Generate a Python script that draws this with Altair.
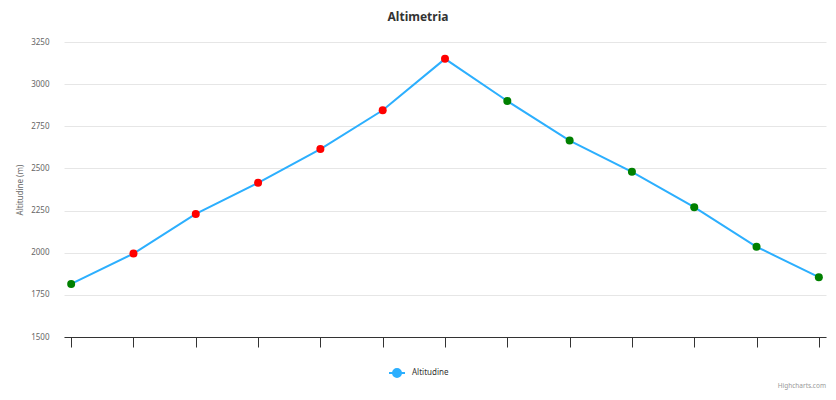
import altair as alt
import pandas as pd

# ---- data ----
punti = list(range(1, 14))
altitudini = [1815, 1995, 2230, 2415, 2615, 2845, 3150, 2900, 2665, 2480, 2270, 2035, 1855]
colori_punti = ["verde"] + ["rosso"] * 6 + ["verde"] * 6
serie = "Altitudine"
y_ticks = [1500, 1750, 2000, 2250, 2500, 2750, 3000, 3250]

FONT = "Noto Sans"
LINE_COLOR = "#2caffe"

df = pd.DataFrame({
    "punto": punti,
    "altitudine": altitudini,
    "colore": colori_punti,
    "serie": [serie] * len(punti),
})

x_enc = alt.X(
    "punto:O",
    sort=punti,
    scale=alt.Scale(type="point", padding=0.115),
    axis=alt.Axis(
        title=None, labels=False, ticks=True, tickSize=10, tickColor="#333333",
        domainColor="#333333", domainWidth=1, grid=False,
    ),
)
y_enc = alt.Y(
    "altitudine:Q",
    scale=alt.Scale(domain=[1500, 3250], nice=False, zero=False),
    axis=alt.Axis(
        title="Altitudine (m)", values=y_ticks, format="d", grid=True,
        gridColor="#e6e6e6", domain=False, ticks=False, labelPadding=15,
        labelColor="#666666", labelFontSize=8, labelFont=FONT,
        titleColor="#666666", titleFontSize=8, titleFont=FONT,
        titleFontWeight="normal", titlePadding=6,
    ),
)

line = alt.Chart(df).mark_line(strokeWidth=2).encode(
    x=x_enc,
    y=y_enc,
    color=alt.Color(
        "serie:N",
        scale=alt.Scale(domain=[serie], range=[LINE_COLOR]),
        legend=alt.Legend(
            title=None, orient="none", legendX=324, legendY=322,
            symbolType="M-1,0L1,0M0.5,0A0.5,0.5 0 1 1 -0.5,0A0.5,0.5 0 1 1 0.5,0Z",
            symbolSize=256, symbolStrokeWidth=2, symbolFillColor=LINE_COLOR,
            symbolStrokeColor=LINE_COLOR, labelFont=FONT, labelFontSize=8,
            labelColor="#333333", labelOffset=6,
        ),
    ),
)

points = alt.Chart(df).mark_circle(size=64, opacity=1).encode(
    x=x_enc,
    y=alt.Y("altitudine:Q"),
    color=alt.Color(
        "colore:N",
        scale=alt.Scale(domain=["rosso", "verde"], range=["#ff0000", "#008000"]),
        legend=None,
    ),
)

credits = alt.Chart(pd.DataFrame({"t": ["Highcharts.com"]})).mark_text(
    align="right", baseline="middle", fontSize=6.5, color="#999999", font=FONT
).encode(text="t:N", x=alt.value(762), y=alt.value(344))

chart = (
    alt.layer(line, points, credits)
    .resolve_scale(color="independent")
    .properties(
        width=762,
        height=295,
        autosize=alt.AutoSizeParams(type="none"),
        padding={"left": 56, "top": 34, "right": 2, "bottom": 55},
        title=alt.TitleParams(
            "Altimetria", anchor="middle", dx=-27, offset=14,
            font=FONT, fontSize=12, fontWeight="bold", color="#333333",
        ),
    )
    .configure_view(stroke=None)
)

chart.save("out.html", embed_options={"renderer": "svg", "actions": False})
